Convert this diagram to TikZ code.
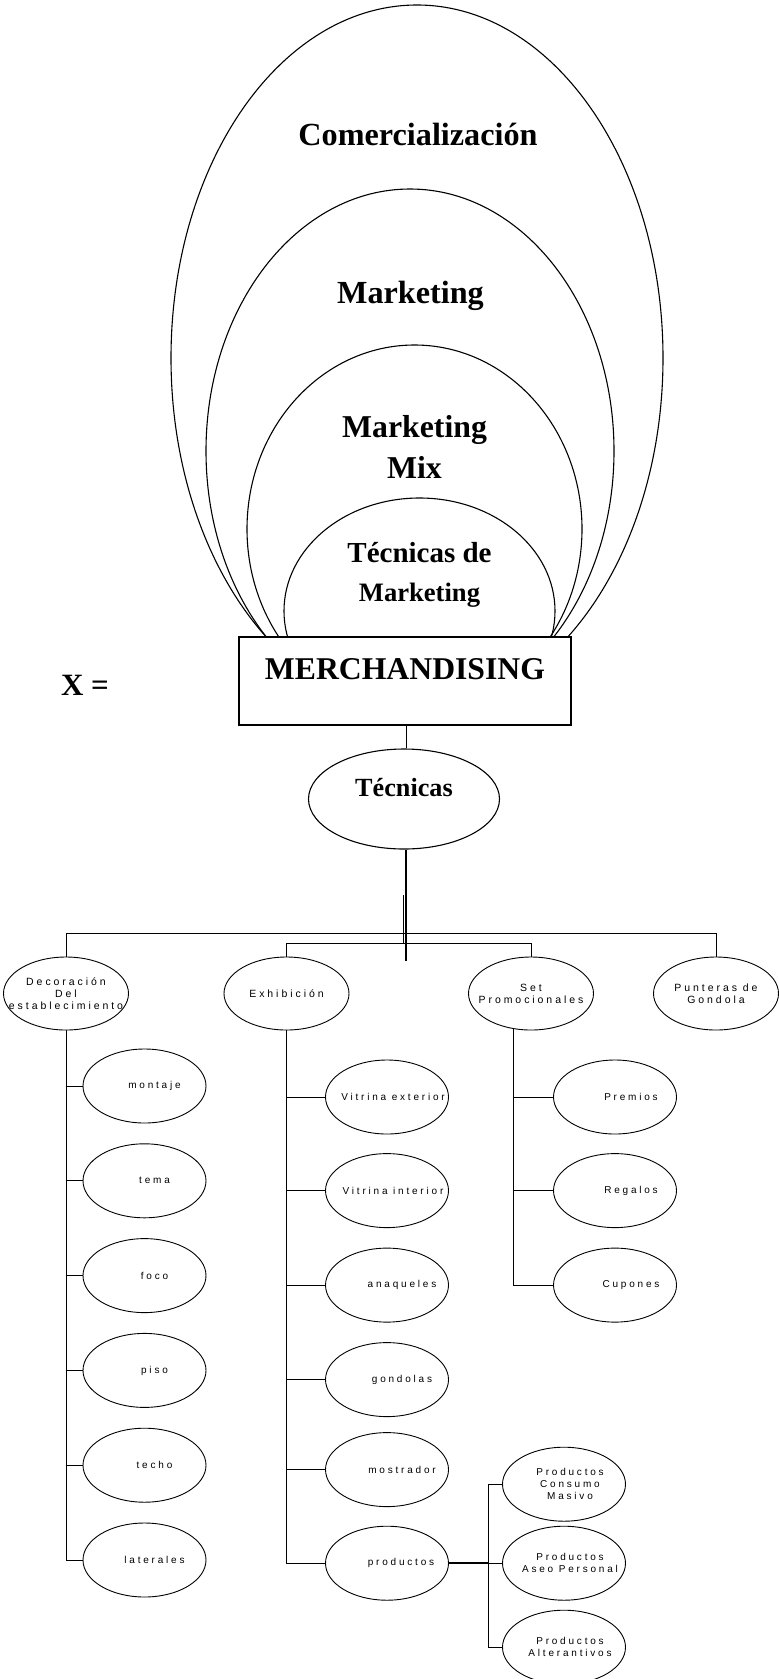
\documentclass[tikz,border=0pt]{standalone}
\usepackage{fontspec}
\setmainfont{Liberation Serif}
\newfontfamily\spacedsans[LetterSpace=28]{Liberation Sans}
\usetikzlibrary{shapes.geometric,positioning}

\begin{document}
\begin{tikzpicture}[
    x=1pt, y=-1pt,
    ring/.style={line width=1.1pt},
    head/.style={font=\bfseries\fontsize{#1}{#1}\selectfont, inner sep=0pt},
    oval/.style={draw, ellipse, line width=0.9pt, inner xsep=-45pt, inner ysep=0pt,
      outer sep=0pt, minimum width=123pt, minimum height=74pt, align=center,
      font=\spacedsans\fontsize{10}{12}\selectfont,
      execute at begin node={\hspace*{#1}}},
    oval/.default=20pt,
    group/.style={oval=0pt, minimum width=125pt, minimum height=73pt,
      font=\spacedsans\fontsize{10.5}{12}\selectfont},
    link/.style={line width=0.8pt},
    trunk/.style={line width=1.8pt}
  ]
  \useasboundingbox (0,0) rectangle (779,1679);
  % nested fields, cut off by the box
  \begin{scope}
    \clip (0,0) rectangle (779,637);
    \draw[ring] (417,358) ellipse [x radius=246pt, y radius=353pt];
    \draw[ring] (410,451) ellipse [x radius=204pt, y radius=262pt];
    \draw[ring] (414.5,529) ellipse [x radius=167.5pt, y radius=184pt];
    \draw[ring] (419.5,611) ellipse [x radius=135.5pt, y radius=113pt];
  \end{scope}
  \node[head=32.2, anchor=base] (comer) at (418,145) {Comercialización};
  \node[head=32.2, anchor=base] (mkt) at (410.5,303) {Marketing};
  \node[head=31.8, align=center] (mix) at (414.5,447) {Marketing\\[10pt]Mix};
  \node[head=29, align=center] (tdm) at (419.5,575) {Técnicas de\\[10pt]{\fontsize{26.6}{26.6}\selectfont Marketing}};
  \node[head=31.7, draw, fill=white, line width=1.4pt, minimum width=332pt,
    text height=42pt, text depth=46pt] (merch) at (405,681) {MERCHANDISING};
  \node[head=31, anchor=base] (xeq) at (85,695) {X =};
  \node[head=26.2, draw, ellipse, line width=1.1pt, minimum width=191pt, minimum height=100pt,
    text height=18pt, text depth=23pt] (tec) at (404,799) {Técnicas};
  % technique groups
  \node[group] (deco) at (66,993.5) {Decoración\\Del\\establecimiento};
  \node[group] (exh) at (286.5,993.5) {Exhibición};
  \node[group] (setp) at (531,993.5) {Set\\Promocionales};
  \node[group] (punt) at (716,993.5) {Punteras de\\Gondola};
  % decoracion
  \node[oval] (montaje) at (144.5,1086) {montaje};
  \node[oval, below=20.8pt of montaje] (tema) {tema};
  \node[oval, below=20.8pt of tema] (foco) {foco};
  \node[oval, below=20.8pt of foco] (piso) {piso};
  \node[oval, below=20.8pt of piso] (techo) {techo};
  \node[oval, below=20.8pt of techo] (lat) {laterales};
  % exhibicion
  \node[oval=12pt] (vitext) at (387,1097) {Vitrina exterior};
  \node[oval=12pt, below=19.6pt of vitext] (vitint) {Vitrina interior};
  \node[oval=30pt, below=20.5pt of vitint] (anaq) {anaqueles};
  \node[oval=30pt, below=20.5pt of anaq] (gond) {gondolas};
  \node[oval=30pt, below=16pt of gond] (most) {mostrador};
  \node[oval=28pt, below=19.6pt of most] (prod) {productos};
  % set promocionales
  \node[oval=32pt] (prem) at (615,1097) {Premios};
  \node[oval=32pt, below=19.6pt of prem] (reg) {Regalos};
  \node[oval=32pt, below=20.5pt of reg] (cup) {Cupones};
  % productos
  \node[oval=12pt, right=54pt of prod] (aseo) {Productos\\Aseo Personal};
  \node[oval=12pt, above=5pt of aseo] (cons) {Productos\\Consumo\\Masivo};
  \node[oval=12pt, below=10pt of aseo] (alt) {Productos\\Alterantivos};
  % connectors
  \coordinate (hub) at (406,961);
  \coordinate (tick) at (403,895);
  \coordinate (bus1) at (0,933);
  \coordinate (bus2) at (0,943);
  \path (prod.east) -- (aseo.west) coordinate[pos=0.74] (pj);
  \draw[link] (merch.south -| hub) -- (tec.north -| hub);
  \draw[trunk] (tec.south -| hub) -- (hub);
  \draw[link] (tick) -- (tick |- bus2);
  \draw[link] (deco.north) |- (bus1 -| punt.north) -- (punt.north);
  \draw[link] (exh.north) |- (bus2 -| setp.north) -- (setp.north);
  \draw[link] (deco.south) |- (lat.west);
  \draw[link] (deco.south |- montaje.west) -- (montaje.west);
  \draw[link] (deco.south |- tema.west) -- (tema.west);
  \draw[link] (deco.south |- foco.west) -- (foco.west);
  \draw[link] (deco.south |- piso.west) -- (piso.west);
  \draw[link] (deco.south |- techo.west) -- (techo.west);
  \draw[link, line width=1.2pt] (exh.south) |- (prod.west);
  \draw[link] (exh.south |- vitext.west) -- (vitext.west);
  \draw[link] (exh.south |- vitint.west) -- (vitint.west);
  \draw[link] (exh.south |- anaq.west) -- (anaq.west);
  \draw[link] (exh.south |- gond.west) -- (gond.west);
  \draw[link] (exh.south |- most.west) -- (most.west);
  \draw[link, line width=1.1pt] (setp.244) |- (cup.west);
  \draw[link] (setp.244 |- prem.west) -- (prem.west);
  \draw[link] (setp.244 |- reg.west) -- (reg.west);
  \draw[link, line width=1.5pt] (prod.east) -- (pj);
  \draw[link] (pj) -- (aseo.west);
  \draw[link] (cons.west) -| (pj) |- (alt.west);
\end{tikzpicture}
\end{document}
